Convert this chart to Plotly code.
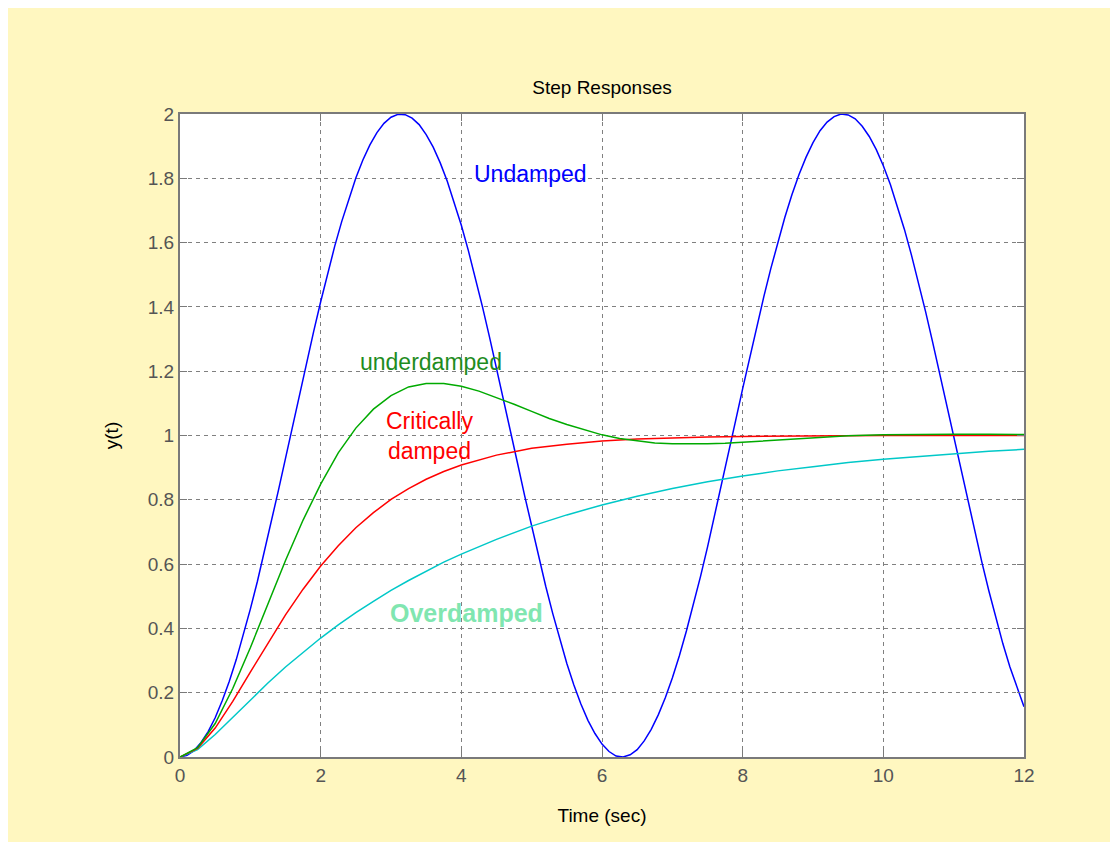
import plotly.graph_objects as go

# ---- data ----
t_undamped = [round(0.1 * i, 1) for i in range(121)]
y_undamped = [0.000, 0.005, 0.020, 0.045, 0.079, 0.122, 0.175, 0.235, 0.303, 0.378,
              0.460, 0.546, 0.638, 0.732, 0.830, 0.929, 1.029, 1.129, 1.227, 1.323,
              1.416, 1.505, 1.589, 1.666, 1.737, 1.801, 1.857, 1.904, 1.942, 1.971,
              1.990, 1.999, 1.998, 1.987, 1.967, 1.936, 1.897, 1.848, 1.791, 1.726,
              1.654, 1.575, 1.490, 1.401, 1.307, 1.211, 1.112, 1.012, 0.913, 0.813,
              0.716, 0.622, 0.531, 0.446, 0.365, 0.291, 0.224, 0.165, 0.114, 0.073,
              0.040, 0.017, 0.003, 0.000, 0.007, 0.023, 0.050, 0.086, 0.131, 0.184,
              0.246, 0.315, 0.392, 0.474, 0.561, 0.653, 0.749, 0.847, 0.946, 1.046,
              1.146, 1.244, 1.339, 1.431, 1.519, 1.602, 1.679, 1.749, 1.811, 1.865,
              1.911, 1.948, 1.975, 1.992, 2.000, 1.997, 1.985, 1.962, 1.930, 1.889,
              1.839, 1.781, 1.714, 1.641, 1.561, 1.476, 1.386, 1.291, 1.194, 1.095,
              0.996, 0.896, 0.797, 0.701, 0.607, 0.517, 0.432, 0.352, 0.280, 0.215,
              0.156]

t_under = [0, 0.25, 0.5, 0.75, 1.0, 1.25, 1.5, 1.75, 2.0, 2.25, 2.5, 2.75, 3.0, 3.25, 3.5, 3.75,
           4.0, 4.25, 4.5, 4.75, 5.0, 5.25, 5.5, 5.75, 6.0, 6.25, 6.5, 6.75, 7.0, 7.25, 7.5, 7.75,
           8.0, 8.5, 9.0, 9.5, 10.0, 10.5, 11.0, 11.5, 12.0]
y_under = [0, 0.029, 0.104, 0.213, 0.340, 0.476, 0.611, 0.737, 0.849, 0.946, 1.023, 1.082, 1.124,
           1.151, 1.162, 1.162, 1.153, 1.138, 1.118, 1.097, 1.075, 1.053, 1.034, 1.017, 1.002,
           0.991, 0.983, 0.977, 0.974, 0.973, 0.974, 0.976, 0.979, 0.986, 0.993, 0.999, 1.002,
           1.004, 1.004, 1.004, 1.003]

t_crit = [0, 0.25, 0.5, 0.75, 1.0, 1.25, 1.5, 1.75, 2.0, 2.25, 2.5, 2.75, 3.0, 3.25, 3.5, 3.75,
          4.0, 4.5, 5.0, 5.5, 6.0, 6.5, 7.0, 7.5, 8.0, 9.0, 10.0, 11.0, 12.0]
y_crit = [0, 0.027, 0.090, 0.173, 0.264, 0.355, 0.442, 0.522, 0.594, 0.657, 0.713, 0.760, 0.801,
          0.835, 0.864, 0.888, 0.908, 0.939, 0.960, 0.973, 0.983, 0.989, 0.993, 0.995, 0.997,
          0.999, 1.000, 1.000, 1.000]

t_over = [0, 0.25, 0.5, 0.75, 1.0, 1.25, 1.5, 1.75, 2.0, 2.25, 2.5, 2.75, 3.0, 3.25, 3.5, 3.75,
          4.0, 4.5, 5.0, 5.5, 6.0, 6.5, 7.0, 7.5, 8.0, 8.5, 9.0, 9.5, 10.0, 10.5, 11.0, 11.5, 12.0]
y_over = [0, 0.023, 0.070, 0.124, 0.178, 0.230, 0.280, 0.326, 0.370, 0.411, 0.449, 0.484, 0.518,
          0.549, 0.578, 0.606, 0.631, 0.677, 0.718, 0.753, 0.784, 0.811, 0.835, 0.856, 0.874,
          0.890, 0.903, 0.916, 0.926, 0.935, 0.944, 0.951, 0.957]

x_ticks = [0, 2, 4, 6, 8, 10, 12]
x_tick_labels = ["0", "2", "4", "6", "8", "10", "12"]
y_ticks = [0, 0.2, 0.4, 0.6, 0.8, 1.0, 1.2, 1.4, 1.6, 1.8, 2.0]
y_tick_labels = ["0", "0.2", "0.4", "0.6", "0.8", "1", "1.2", "1.4", "1.6", "1.8", "2"]

labels = ["Undamped", "underdamped", "Critically<br>damped", "Overdamped"]
label_x = [4.98, 3.57, 3.55, 4.07]
label_y = [1.813, 1.229, 1.0, 0.448]

# ---- figure ----
W, H = 1110, 834
ML, MR, MT, MB = 172, 94, 106, 85
PW, PH = W - ML - MR, H - MT - MB

fig = go.Figure()
series = [
    (t_undamped, y_undamped, "#0000FF"),
    (t_over, y_over, "#00C8C8"),
    (t_crit, y_crit, "#FF0000"),
    (t_under, y_under, "#00AA00"),
]
for tx, ty, col in series:
    fig.add_trace(go.Scatter(x=tx, y=ty, mode="lines", line=dict(color=col, width=1.5),
                             showlegend=False, hoverinfo="skip"))

label_colors = ["#0000FF", "#1E8C1E", "#FF0000", "#80E6B0"]
label_fonts = [
    dict(family="Liberation Sans, Arial", size=23, color=label_colors[0]),
    dict(family="Liberation Sans, Arial", size=23, color=label_colors[1]),
    dict(family="Liberation Sans, Arial", size=23, color=label_colors[2]),
    dict(family="Liberation Sans, Arial", size=25, color=label_colors[3], weight="bold"),
]
for txt, lx, ly, fnt in zip(labels, label_x, label_y, label_fonts):
    fig.add_annotation(x=lx, y=ly, text=txt, showarrow=False, font=fnt,
                       xanchor="center", yanchor="middle")

axis_common = dict(
    showline=True, linecolor="#7a7a7a", linewidth=2, mirror="ticks",
    ticks="inside", ticklen=7, tickcolor="#7a7a7a", tickwidth=1,
    showgrid=True, gridcolor="#808080", gridwidth=1, griddash="4px,4px",
    zeroline=False,
    tickfont=dict(family="Liberation Sans, Arial", size=19, color="#555555"),
)

fig.update_layout(
    width=W, height=H,
    margin=dict(l=ML, r=MR, t=MT, b=MB),
    paper_bgcolor="#FFF7C0",
    plot_bgcolor="#FFFFFF",
    title=dict(text="Step Responses", x=(ML + PW / 2) / W, xanchor="center",
               y=1 - 79 / H, yanchor="middle", yref="container",
               font=dict(family="Liberation Sans, Arial", size=19, color="#000000")),
    xaxis=dict(range=[0, 12], tickvals=x_ticks, ticktext=x_tick_labels,
               title=dict(text="Time (sec)", standoff=24,
                          font=dict(family="Liberation Sans, Arial", size=19, color="#000000")),
               **axis_common),
    yaxis=dict(range=[0, 2], tickvals=y_ticks, ticktext=y_tick_labels,
               title=dict(text="y(t)", standoff=24,
                          font=dict(family="Liberation Sans, Arial", size=19, color="#000000")),
               **axis_common),
)

fig.write_html("out.html")
